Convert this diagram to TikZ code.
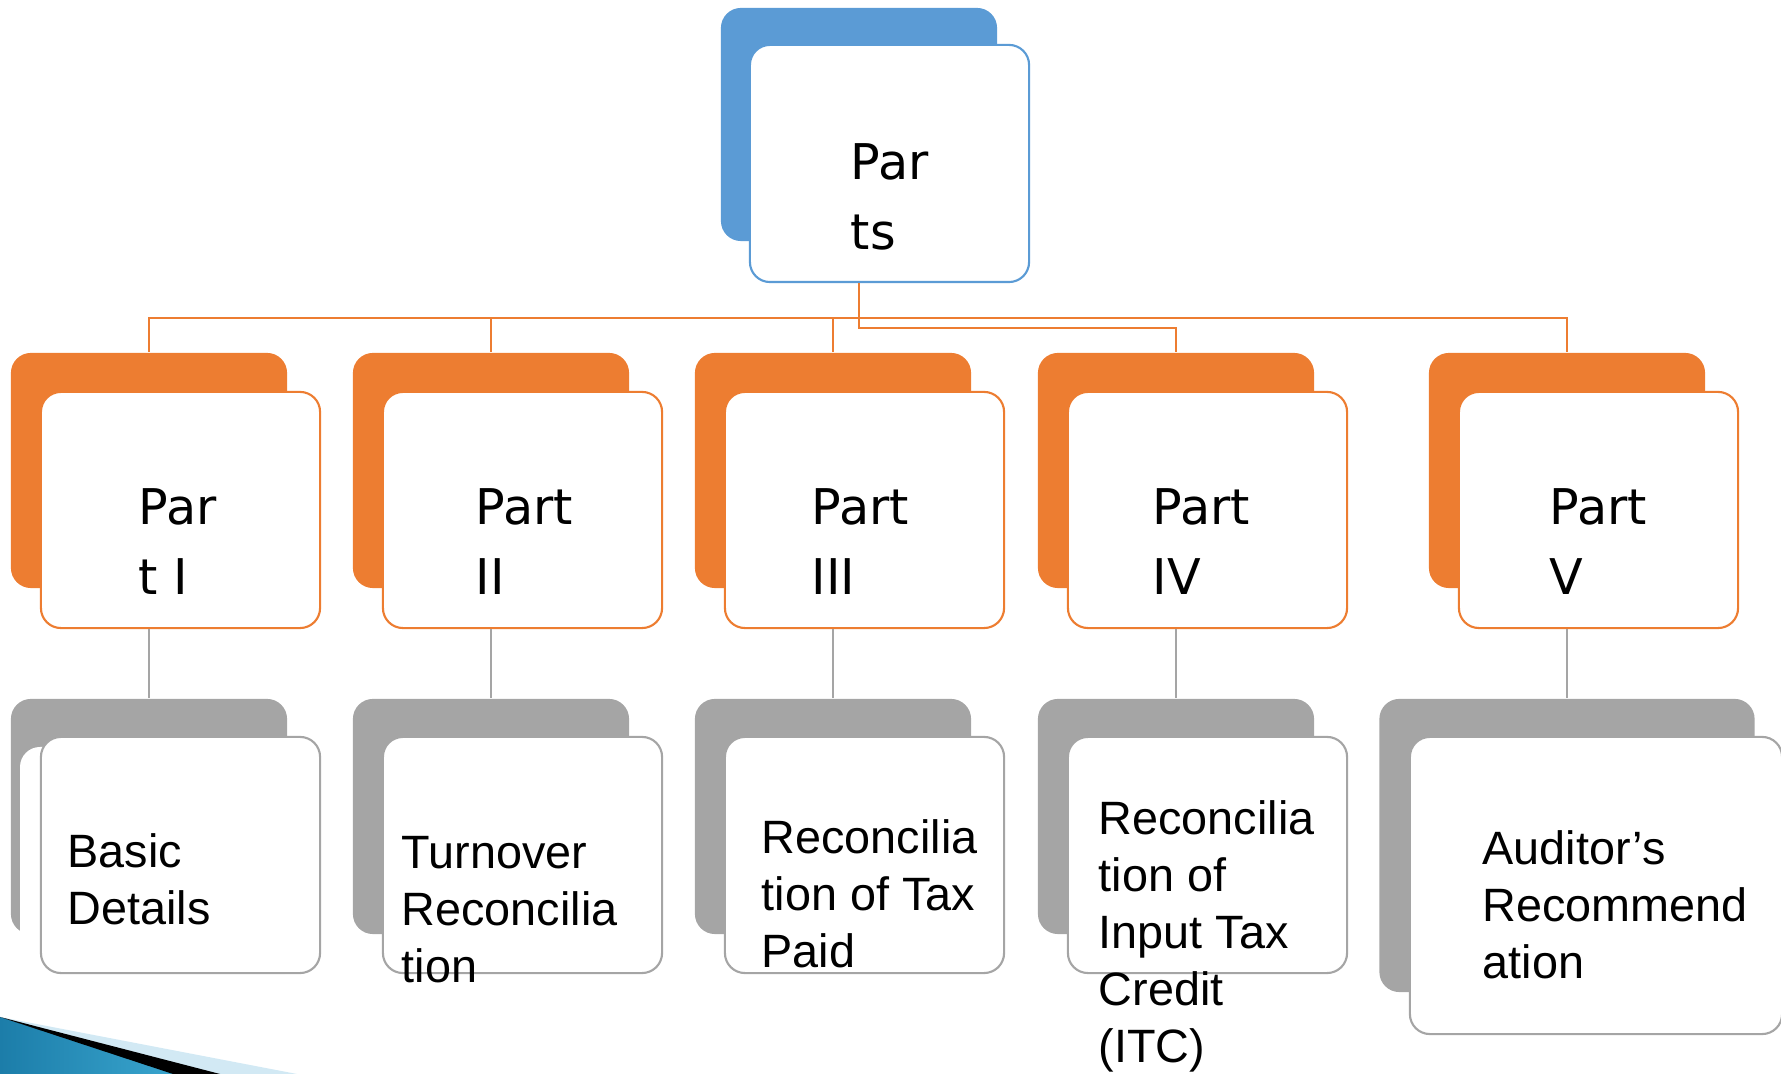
\documentclass[tikz,border=0pt]{standalone}
\usepackage{fontspec}
\usepackage{tikz}

\newfontfamily\partfont{DejaVu Sans}
\newfontfamily\itemfont{Liberation Sans}
\definecolor{partsblue}{HTML}{5B9BD5}
\definecolor{partsorange}{HTML}{ED7D31}
\definecolor{partsgray}{HTML}{A5A5A5}
\definecolor{decolight}{HTML}{D2E9F4}
\definecolor{decodark}{HTML}{1C7DA9}
\definecolor{decomid}{HTML}{3AA6CF}
\newcommand{\stacked}[1]{\begin{tabular}[t]{@{}l@{}}#1\end{tabular}}

\begin{document}
\begin{tikzpicture}[x=0.01cm,y=-0.01cm]
            \tikzstyle{roundbox}=[rounded corners=0.2cm,inner sep=0pt]
            \tikzstyle{topback}=[roundbox,fill=partsblue,minimum width=2.76cm,minimum height=2.33cm]
            \tikzstyle{topfront}=[roundbox,draw=partsblue,line width=0.6pt,fill=white,minimum width=2.79cm,minimum height=2.37cm]
            \tikzstyle{partback}=[roundbox,fill=partsorange,minimum width=2.76cm,minimum height=2.35cm]
            \tikzstyle{partfront}=[roundbox,draw=partsorange,line width=0.6pt,fill=white,minimum width=2.79cm,minimum height=2.36cm]
            \tikzstyle{itemback}=[roundbox,fill=partsgray,minimum width=2.76cm,minimum height=2.35cm]
            \tikzstyle{itemfront}=[roundbox,draw=partsgray,line width=0.6pt,fill=white,minimum width=2.79cm,minimum height=2.36cm]
            \tikzstyle{parttext}=[anchor=base west,inner sep=0pt,font=\partfont\fontsize{14}{19.9}\selectfont]
            \tikzstyle{itemtext}=[anchor=base west,inner sep=0pt,font=\itemfont\fontsize{13.3}{16.2}\selectfont]
            \tikzstyle{orangeline}=[draw=partsorange,line width=0.75pt]
            \tikzstyle{grayline}=[draw=partsgray,line width=0.75pt]
                \useasboundingbox (0,0) rectangle (1781,1074);

                % corner decoration
                \fill[decolight] (0,1017) -- (297,1074) -- (0,1074) -- cycle;
                \shade[left color=decodark,right color=decomid] (0,1017) -- (180,1074) -- (0,1074) -- cycle;
                \fill[black] (0,1017) -- (220,1074) -- (173,1074) -- cycle;

                % top
                \node[topback] (topb) at (859,124.5){};
                \node[topfront] (top) at (889.5,163.5){};
                \node[parttext] (toplabel) at (850,180){\stacked{Par\\ts}};

                % parts
                \foreach \i/\cx/\tx/\lab in {1/149/138/{Par\\t I},2/491/475/{Part\\II},3/833/811/{Part\\III},4/1176/1152/{Part\\IV},5/1567/1549/{Part\\V}}{
                    \node[partback] (pb\i) at (\cx,470.5){};
                    \node[partfront] (pf\i) at (\cx+31.5,510){};
                    \node[parttext] (pl\i) at (\tx,525){\stacked{\lab}};
                }

                % items
                \foreach \i/\cx in {1/149,2/491,3/833,4/1176}
                    \node[itemback] (ib\i) at (\cx,816.5){};
                \node[itemback,minimum width=3.75cm,minimum height=2.93cm] (ib5) at (1567,845.5){};
                \fill[white,rounded corners=0.2cm] (20,747) rectangle (300,975);
                \foreach \i/\cx in {1/149,2/491,3/833,4/1176}
                    \node[itemfront] (if\i) at (\cx+31.5,855){};
                \node[itemfront,minimum width=3.72cm,minimum height=2.97cm] (if5) at (1596,885.5){};

                \node[itemtext] (il1) at (67,868){\stacked{Basic\\Details}};
                \node[itemtext] (il2) at (401,869){\stacked{Turnover\\Reconcilia\\tion}};
                \node[itemtext] (il3) at (761,854){\stacked{Reconcilia\\tion of Tax\\Paid}};
                \node[itemtext] (il4) at (1098,835){\stacked{Reconcilia\\tion of\\Input Tax\\Credit\\(ITC)}};
                \node[itemtext] (il5) at (1482,865){\stacked{Auditor’s\\Recommend\\ation}};

                % connectors
                \coordinate (hub) at (859,318);
                \coordinate (hub2) at (859,328);
                \draw[orangeline] (top.south -| topb.south) -- (hub2) -| (pb4.north);
                \draw[orangeline] (pb1.north) |- (hub) -| (pb5.north);
                \foreach \i in {2,3}
                    \draw[orangeline] (pb\i.north) -- (pb\i.north |- hub);
                \foreach \i in {1,...,5}
                    \draw[grayline] (ib\i.north |- pf\i.south) -- (ib\i.north);
        \end{tikzpicture}
\end{document}
